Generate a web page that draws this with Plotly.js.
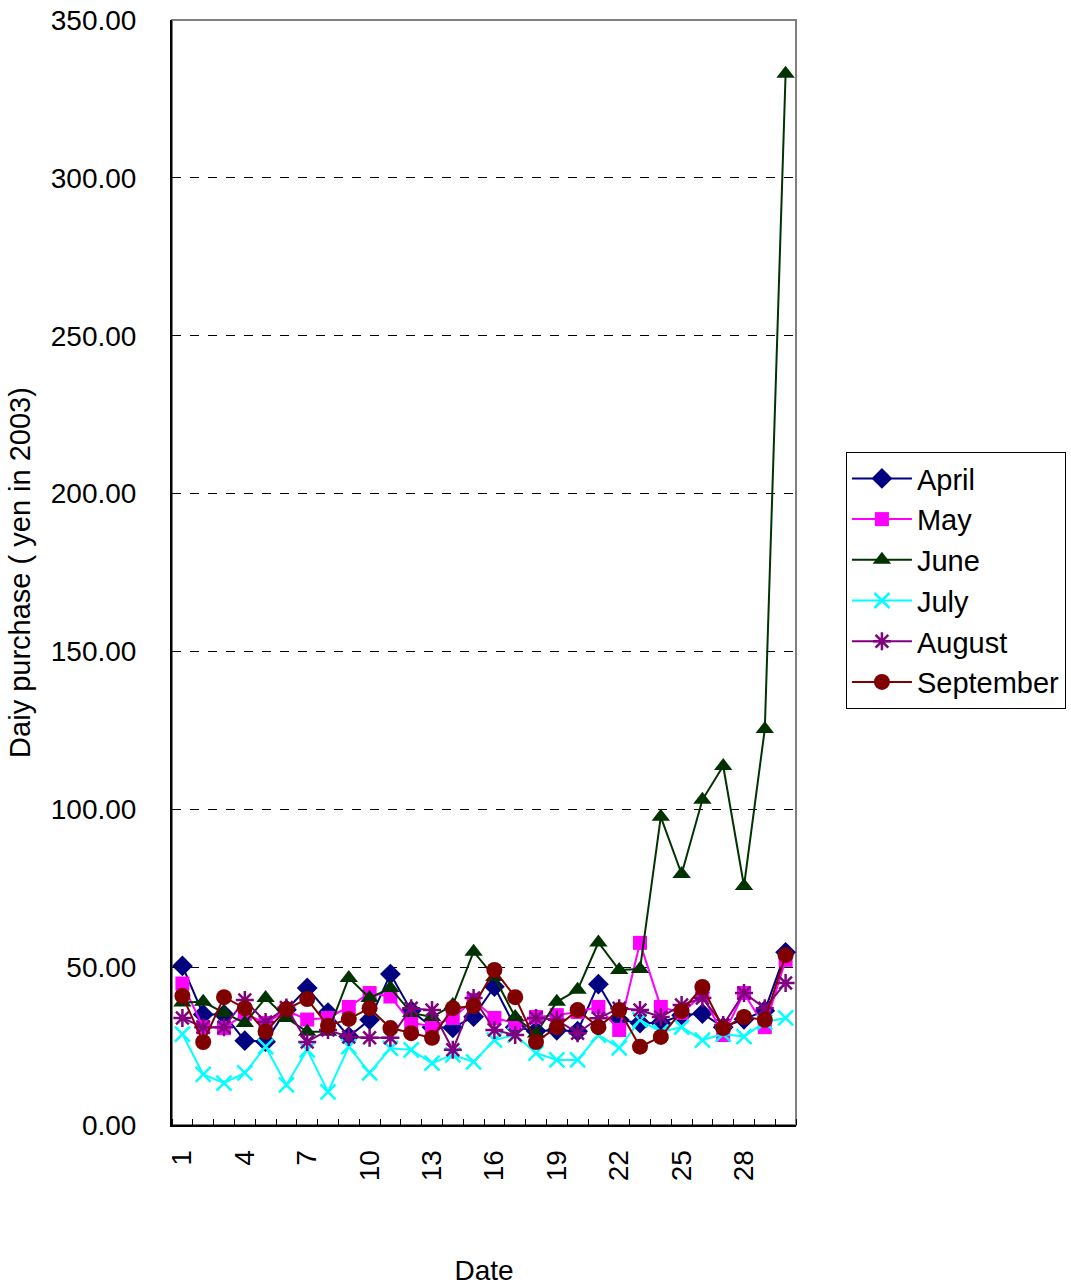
<!DOCTYPE html>
<html>
<head>
<meta charset="utf-8">
<script src="https://cdn.plot.ly/plotly-3.0.1.min.js"></script>
<style>html,body{margin:0;padding:0;background:#fff;}#chart{width:1071px;height:1288px;}</style>
</head>
<body>
<div id="chart"></div>
<script>
const days = [1,2,3,4,5,6,7,8,9,10,11,12,13,14,15,16,17,18,19,20,21,22,23,24,25,26,27,28,29,30];
const dayTicks = [1,4,7,10,13,16,19,22,25,28];
const dayTickLabels = ["1","4","7","10","13","16","19","22","25","28"];
const yTicks = [0,50,100,150,200,250,300,350];

const april = [50.4,35,35,26.7,26.4,36.5,43.4,35.6,28,33.3,47.8,36.2,31,30.8,34.3,43.8,31,29.8,30,29.7,44.6,33.3,32.3,32.3,34.8,35.3,31,33.5,36.2,54.7];
const may = [44.8,31,30.7,35.2,32.3,36.2,33.4,33.9,37.4,41.8,40.7,32.3,31.4,33.9,39.6,33.9,32.3,34.2,34.8,35.8,37.4,30.1,57.7,37.4,35.5,41.2,28.5,41.8,31,52.3];
const june = [38.8,39,35.5,32.3,40.2,33.9,29.5,29.5,46.6,40.2,43.4,35.5,34.2,38,54.9,46.9,34.2,29,39,42.8,57.8,49.1,49.4,97.6,79.5,103,113.7,75.7,125.4,333];
const july = [28.8,16,13.3,16.5,24.8,12.7,23.8,10.5,24.8,16.5,24.3,23.8,19.6,22.2,20,26.9,28.5,22.8,20.6,20.6,28.5,24.4,33.3,29.5,31,26.9,28.8,28,32.6,33.9];
const august = [33.9,31,31,39.6,32.6,37.2,26.3,30.1,27.9,27.6,27.6,37,36.4,23.8,40.2,30.1,28.5,33.9,33.3,29.1,33.8,37,36.4,34.2,38,40.2,31.7,41.8,37,45];
const september = [40.9,26.3,40.5,37,29.5,36.7,39.9,31.4,33.6,37,30.7,29.1,27.6,37,37.7,49.1,40.5,26.3,31,36.4,31,36.4,24.8,27.9,36.1,43.7,30.7,34.2,33.3,53.8];

const seriesNames = ["April","May","June","July","August","September"];
const seriesData = [april, may, june, july, august, september];
const colors = ["#000080","#FF00FF","#003300","#00FFFF","#800080","#800000"];
const symbols = ["diamond","square","triangle-up","x-thin-open","asterisk-open","circle"];
const sizes = [16,14,16,15,15,16];

const traces = seriesNames.map((name,i)=>({
  x: days, y: seriesData[i], name: name, type: 'scatter', mode: 'lines+markers',
  line: {color: colors[i], width: 2},
  marker: {symbol: symbols[i], size: sizes[i], color: colors[i],
           line: {color: colors[i], width: (i===3||i===4) ? 2.5 : 0}}
}));

const font = "Liberation Sans, Arial, sans-serif";

const layout = {
  width: 1071, height: 1288,
  margin: {l:172, r:275, t:20, b:163, pad:0, autoexpand: false},
  paper_bgcolor: '#fff', plot_bgcolor: '#fff',
  font: {family: font, size: 28, color: '#000'},
  showlegend: true,
  legend: {x: 1.08, xanchor: 'left', y: 0.609, yanchor: 'top',
           bordercolor: '#000', borderwidth: 1, bgcolor: '#fff',
           font: {family: font, size: 29, color: '#000'},
           itemwidth: 60, tracegroupgap: 0},
  xaxis: {
    range: [0.5, 30.5], tickmode: 'array', tickvals: dayTicks, ticktext: dayTickLabels,
    tickangle: -90, ticks: '', showgrid: false, zeroline: false,
    showline: true, linecolor: '#000', linewidth: 2,
    minor: {ticks: 'inside', tick0: 0.5, dtick: 1, ticklen: 6, tickcolor: '#000', tickwidth: 1, showgrid: false},
    tickfont: {family: font, size: 28, color: '#000'},
    ticklabelstandoff: 12,
    title: {text: 'Date', font: {family: font, size: 28, color: '#000'}, standoff: 80},
    automargin: false, fixedrange: true
  },
  yaxis: {
    range: [0, 350], tickmode: 'array', tickvals: yTicks, tickformat: '.2f',
    ticks: 'inside', ticklen: 6, tickcolor: '#000', tickwidth: 1,
    showline: true, linecolor: '#000', linewidth: 2, zeroline: false,
    showgrid: true, gridcolor: '#000', gridwidth: 1, griddash: 'dash',
    tickfont: {family: font, size: 28, color: '#000'},
    ticklabelstandoff: 28,
    title: {text: 'Daiy purchase ( yen in 2003)', font: {family: font, size: 29, color: '#000'}, standoff: 12},
    automargin: false, fixedrange: true
  },
  shapes: [{type: 'rect', xref: 'paper', yref: 'paper', x0: 0, x1: 1, y0: 0, y1: 1,
            line: {color: '#808080', width: 2}, layer: 'below'}]
};

Plotly.newPlot('chart', traces, layout, {staticPlot: true, displayModeBar: false});
</script>
</body>
</html>
